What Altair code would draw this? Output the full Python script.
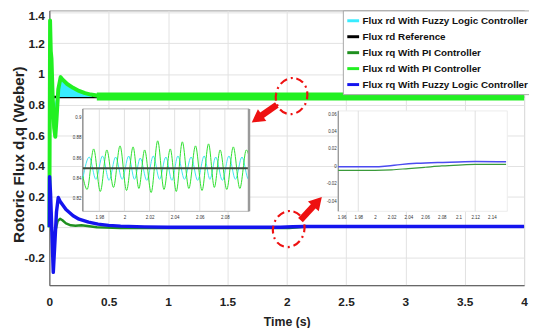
import altair as alt
import pandas as pd

F = "Liberation Sans"

# ---------------- legend / series ----------------
series_names = [
    "Flux rd With Fuzzy Logic Controller",
    "Flux rd Reference",
    "Flux rq With PI Controller",
    "Flux rd With PI Controller",
    "Flux rq With Fuzzy Logic Controller",
]
series_colors = ["#38ecff", "#000000", "#1f8f1f", "#22f022", "#1414ee"]

# ---------------- main plot data (t in s, flux in Wb) ----------------
x_ticks = [0, 0.5, 1, 1.5, 2, 2.5, 3, 3.5, 4]
y_ticks = [-0.2, 0, 0.2, 0.4, 0.6, 0.8, 1, 1.2, 1.4]

ref_t = [0.0, 4.0]
ref_v = [0.85, 0.85]

fz_rd_t = [0.0, 0.004, 0.02, 0.035, 0.048, 0.06, 0.075]
fz_rd_v = [0.0, 0.85, 0.86, 0.80, 0.75, 0.82, 0.87]
fz_env_t = [0.06, 0.08, 0.1, 0.15, 0.2, 0.25, 0.3, 0.36]
fz_env_v = [0.86, 0.93, 0.955, 0.925, 0.9, 0.882, 0.868, 0.855]

pi_rd_t = [0.0, 0.006, 0.012, 0.018, 0.028, 0.04, 0.05, 0.06, 0.075, 0.095,
           0.11, 0.15, 0.2, 0.25, 0.3, 0.35, 0.4, 0.5, 0.7, 4.0]
pi_rd_v = [0.0, 1.35, 1.15, 1.1, 0.85, 0.65, 0.59, 0.7, 0.9, 0.98,
           0.965, 0.935, 0.91, 0.89, 0.875, 0.866, 0.86, 0.856, 0.853, 0.853]
pi_band_t = [0.4, 4.0]
pi_band_lo = [0.828, 0.828]
pi_band_hi = [0.879, 0.879]

pi_rq_t = [0.0, 0.008, 0.02, 0.04, 0.055, 0.07, 0.09, 0.11, 0.14, 0.18, 0.22,
           0.27, 0.32, 0.4, 0.6, 2.02, 2.1, 2.15, 4.0]
pi_rq_v = [0.0, 0.03, -0.02, -0.065, -0.01, 0.04, 0.055, 0.045, 0.025, 0.012,
           0.01, 0.013, 0.008, 0.0, -0.005, -0.005, 0.0, 0.002, 0.002]

fz_rq_t = [0.0, 0.002, 0.01, 0.02, 0.033, 0.045, 0.06, 0.075, 0.09, 0.14, 0.2,
           0.25, 0.33, 0.41, 0.5, 0.6, 0.8, 1.0, 1.95, 2.05, 2.15, 4.0]
fz_rq_v = [0.0, 0.33, 0.22, 0.0, -0.295, -0.12, 0.1, 0.194, 0.17, 0.116, 0.075,
           0.052, 0.033, 0.02, 0.012, 0.007, 0.002, 0.0, 0.0, 0.003, 0.005, 0.005]

# ---------------- inset 1 (flux rd zoom) ----------------
in1_x_dom = [1.9669, 2.0992]
in1_y_dom = [0.8074, 0.9085]
in1_x_ticks = [1.98, 2, 2.02, 2.04, 2.06, 2.08]
in1_y_ticks = [0.82, 0.84, 0.86, 0.88, 0.9]

in1_pi_t = [1.9669, 1.9703, 1.9755, 1.9808, 1.986, 1.9913, 1.9965, 2.0017, 2.0069,
            2.0115, 2.0161, 2.0213, 2.0265, 2.0315, 2.0365, 2.0413, 2.0461, 2.0513,
            2.0566, 2.0618, 2.067, 2.0716, 2.0762, 2.0815, 2.0867, 2.0919, 2.0971, 2.0992]
in1_pi_v = [0.842, 0.829, 0.869, 0.827, 0.868, 0.831, 0.872, 0.828, 0.871,
            0.830, 0.868, 0.826, 0.877, 0.829, 0.869, 0.827, 0.876, 0.830,
            0.872, 0.828, 0.874, 0.831, 0.868, 0.829, 0.871, 0.830, 0.868, 0.862]

in1_fz_t = [1.9669, 1.972, 1.9773, 1.9825, 1.9878, 1.993, 1.9982, 2.0034, 2.008,
            2.0126, 2.0178, 2.023, 2.028, 2.033, 2.0378, 2.0426, 2.0478, 2.0531,
            2.0583, 2.0635, 2.0681, 2.0727, 2.078, 2.0832, 2.0884, 2.0936, 2.0988, 2.0992]
in1_fz_v = [0.840, 0.861, 0.839, 0.862, 0.838, 0.861, 0.839, 0.862, 0.839,
            0.860, 0.838, 0.862, 0.839, 0.861, 0.838, 0.862, 0.839, 0.861,
            0.838, 0.862, 0.839, 0.861, 0.838, 0.862, 0.839, 0.861, 0.839, 0.8395]

in1_ref_t = [1.9669, 2.0992]
in1_ref_v = [0.85, 0.85]

# ---------------- inset 2 (flux rq zoom) ----------------
in2_x_dom = [1.956, 2.1585]
in2_y_dom = [-0.0516, 0.0637]
in2_x_ticks = [1.96, 1.98, 2, 2.02, 2.04, 2.06, 2.08, 2.1, 2.12, 2.14]
in2_y_ticks = [-0.04, -0.02, 0, 0.02, 0.04, 0.06]
in2_grid = [1.98, 2.12]

in2_fz_t = [1.956, 2.0, 2.015, 2.03, 2.05, 2.075, 2.1, 2.12, 2.157]
in2_fz_v = [-0.0005, -0.0005, 0.0005, 0.002, 0.0035, 0.0045, 0.005, 0.0055, 0.0052]
in2_pi_t = [1.956, 2.0, 2.02, 2.04, 2.06, 2.08, 2.1, 2.12, 2.157]
in2_pi_v = [-0.0045, -0.0045, -0.004, -0.0025, -0.001, 0.0005, 0.0015, 0.0022, 0.0022]

# ---------------- annotations (data coordinates of main plot) ----------------
ring_t = [2.041, 2.017]
ring_v = [0.856, -0.012]
ring_ang = [15, 15]
arrow_tail_t = [1.917, 2.116]
arrow_tail_v = [0.798, 0.046]
arrow_head_t = [1.749, 2.260]
arrow_head_v = [0.708, 0.167]
arrow_ang = [235, 42]

# ---------------- scales & axes ----------------
XM = alt.Scale(domain=[0, 4], nice=False, zero=False)
YM = alt.Scale(domain=[-0.3788, 1.4154], nice=False, zero=False)
LBL = "datum.value + ''"

ax_x = alt.Axis(values=x_ticks, title="Time (s)", grid=True, gridColor="#e2e2e2",
                ticks=False, domainColor="#555555", labelExpr=LBL, labelFont=F,
                labelFontSize=12, labelFontWeight="bold", labelColor="#222222",
                labelPadding=12, labelFlush=False, titleFont=F, titleFontSize=12.5,
                titleFontWeight="bold", titleColor="#222222", titlePadding=8)
ax_y = alt.Axis(values=y_ticks, title="Rotoric Flux d,q (Weber)", grid=True,
                gridColor="#e2e2e2", ticks=False, domainColor="#555555",
                labelExpr=LBL, labelFont=F, labelFontSize=12, labelFontWeight="bold",
                labelColor="#222222", labelPadding=5, labelFlush=False,
                labelOffset=alt.condition("datum.value == 1.4", alt.value(2.5), alt.value(0)),
                titleFont=F, titleFontSize=15.5, titleFontWeight="bold",
                titleColor="#222222", titleX=-23, titleY=146)

color_enc = alt.Color("series:N", scale=alt.Scale(domain=series_names, range=series_colors),
                      legend=alt.Legend(orient="none", legendX=298, legendY=0, title=None,
                                        direction="vertical", symbolType="stroke",
                                        symbolSize=144, symbolStrokeWidth=3,
                                        labelFont=F, labelFontSize=10,
                                        labelFontWeight="bold", labelColor="#111111",
                                        labelOffset=2, labelLimit=300, padding=3,
                                        rowPadding=2.2, strokeColor="#a8a8a8",
                                        fillColor="white"))


def series_df(t, v, name):
    return pd.DataFrame({"t": t, "v": v, "series": name})


def main_line(t, v, name, width):
    return alt.Chart(series_df(t, v, name)).mark_line(strokeWidth=width, strokeJoin="round").encode(
        x=alt.X("t:Q", scale=XM, axis=ax_x),
        y=alt.Y("v:Q", scale=YM, axis=ax_y),
        color=color_enc,
        order=alt.Order("t:Q"),
    )


cyan_area = alt.Chart(pd.DataFrame({"t": fz_env_t, "v": fz_env_v, "r": [0.85] * len(fz_env_t)})).mark_area(
    color=series_colors[0], interpolate="monotone").encode(
    x=alt.X("t:Q", scale=XM, axis=ax_x),
    y=alt.Y("r:Q", scale=YM, axis=ax_y),
    y2="v:Q",
)
green_band = alt.Chart(pd.DataFrame({"t": pi_band_t, "lo": pi_band_lo, "hi": pi_band_hi})).mark_area(
    color=series_colors[3]).encode(
    x=alt.X("t:Q", scale=XM, axis=ax_x),
    y=alt.Y("lo:Q", scale=YM, axis=ax_y),
    y2="hi:Q",
)

main = alt.layer(
    main_line(ref_t, ref_v, series_names[1], 2.5),
    cyan_area,
    main_line(fz_rd_t, fz_rd_v, series_names[0], 2.5),
    main_line(pi_rd_t, pi_rd_v, series_names[3], 4),
    green_band,
    main_line(pi_rq_t, pi_rq_v, series_names[2], 2.5),
    main_line(fz_rq_t, fz_rq_v, series_names[4], 3.5),
)


# ---------------- inset builder ----------------
def inset(xdom, ydom, xrange, yrange, xt, yt, grid_vals, lines, yoff, xoff, bg_stroke, right_bar):
    XS = alt.Scale(domain=xdom, range=xrange, nice=False, zero=False)
    YS = alt.Scale(domain=ydom, range=yrange, nice=False, zero=False)
    axx = alt.Axis(values=xt, orient="bottom", offset=yoff, title=None, grid=False,
                   ticks=False, domain=False, labelExpr=LBL, labelFont=F, labelFontSize=4.5,
                   labelColor="#333333", labelPadding=3, labelFlush=False, zindex=1)
    axy = alt.Axis(values=yt, orient="left", offset=xoff, title=None, grid=False,
                   ticks=False, domain=False, labelExpr=LBL, labelFont=F, labelFontSize=4.5,
                   labelColor="#333333", labelPadding=2, labelFlush=False, zindex=1)
    box = pd.DataFrame({"x0": [xdom[0]], "x1": [xdom[1]], "y0": [ydom[0]], "y1": [ydom[1]]})
    layers = [
        alt.Chart(box).mark_rect(fill="white", stroke=bg_stroke, strokeWidth=1).encode(
            x=alt.X("x0:Q", scale=XS, axis=axx), x2="x1:Q",
            y=alt.Y("y0:Q", scale=YS, axis=axy), y2="y1:Q"),
        alt.Chart(pd.DataFrame({"g": grid_vals, "y0": ydom[0], "y1": ydom[1]})).mark_rule(
            color="#d8d8d8", strokeWidth=0.8).encode(
            x=alt.X("g:Q", scale=XS, axis=axx),
            y=alt.Y("y0:Q", scale=YS, axis=axy), y2="y1:Q"),
        alt.Chart(box).mark_rule(color="#7a7a7a", strokeWidth=1).encode(
            x=alt.X("x0:Q", scale=XS, axis=axx),
            y=alt.Y("y0:Q", scale=YS, axis=axy), y2="y1:Q"),
    ]
    for (t, v, col, w) in lines:
        layers.append(alt.Chart(pd.DataFrame({"t": t, "v": v})).mark_line(
            color=col, strokeWidth=w, interpolate="monotone").encode(
            x=alt.X("t:Q", scale=XS, axis=axx),
            y=alt.Y("v:Q", scale=YS, axis=axy),
            order=alt.Order("t:Q")))
    if right_bar:
        layers.append(alt.Chart(box).mark_rule(color="#9a9a9a", strokeWidth=2.5).encode(
            x=alt.X("x1:Q", scale=XS, axis=axx),
            y=alt.Y("y0:Q", scale=YS, axis=axy), y2="y1:Q"))
    return alt.layer(*layers)


inset1 = inset(in1_x_dom, in1_y_dom, [34, 202.7], [204, 100], in1_x_ticks, in1_y_ticks,
               in1_x_ticks,
               [(in1_fz_t, in1_fz_v, "#3ee6ee", 1.0),
                (in1_pi_t, in1_pi_v, "#2ee02e", 1.0),
                (in1_ref_t, in1_ref_v, "#3c4a3c", 2.0)],
               -75, -34, "#b8b8b8", True)

inset2 = inset(in2_x_dom, in2_y_dom, [293.3, 465], [204, 102], in2_x_ticks, in2_y_ticks,
               in2_grid,
               [(in2_pi_t, in2_pi_v, "#3a9a3a", 1.2),
                (in2_fz_t, in2_fz_v, "#4b4bf0", 1.5)],
               -75, -293.3, "#ececec", False)

# ---------------- annotations ----------------
XA = alt.Scale(domain=[0, 4], nice=False, zero=False)
YA = alt.Scale(domain=[-0.3788, 1.4154], nice=False, zero=False)
RED = "#ee1111"
ellipse = "M 0 -1 A 0.86 1 0 1 1 0 1 A 0.86 1 0 1 1 0 -1 Z"

rings = alt.Chart(pd.DataFrame({"t": ring_t, "v": ring_v, "a": ring_ang})).mark_point(
    shape=ellipse, size=1369, filled=False, color=RED, strokeWidth=2.2,
    strokeDash=[8, 4, 2, 4], opacity=1).encode(
    x=alt.X("t:Q", scale=XA, axis=None),
    y=alt.Y("v:Q", scale=YA, axis=None),
    angle=alt.Angle("a:Q", scale=None))

arrows_df = pd.DataFrame({"t0": arrow_tail_t, "v0": arrow_tail_v,
                          "t1": arrow_head_t, "v1": arrow_head_v, "a": arrow_ang})
arrow_body = alt.Chart(arrows_df).mark_rule(color=RED, strokeWidth=6.5, strokeCap="butt").encode(
    x=alt.X("t0:Q", scale=XA, axis=None), x2="t1:Q",
    y=alt.Y("v0:Q", scale=YA, axis=None), y2="v1:Q")
arrow_head = alt.Chart(arrows_df).mark_point(shape="triangle-up", size=220, filled=True,
                                              color=RED, opacity=1).encode(
    x=alt.X("t1:Q", scale=XA, axis=None),
    y=alt.Y("v1:Q", scale=YA, axis=None),
    angle=alt.Angle("a:Q", scale=None))

annot = alt.layer(rings, arrow_body, arrow_head)

chart = alt.layer(main, inset1, inset2, annot).resolve_scale(
    x="independent", y="independent"
).properties(
    width=482, height=279,
    autosize=alt.AutoSizeParams(type="none"),
    padding={"left": 42, "top": 0, "right": 5, "bottom": 41},
).configure_view(stroke="#9a9a9a", strokeWidth=1)

chart.save("out.html", embed_options={"renderer": "svg", "actions": False})
